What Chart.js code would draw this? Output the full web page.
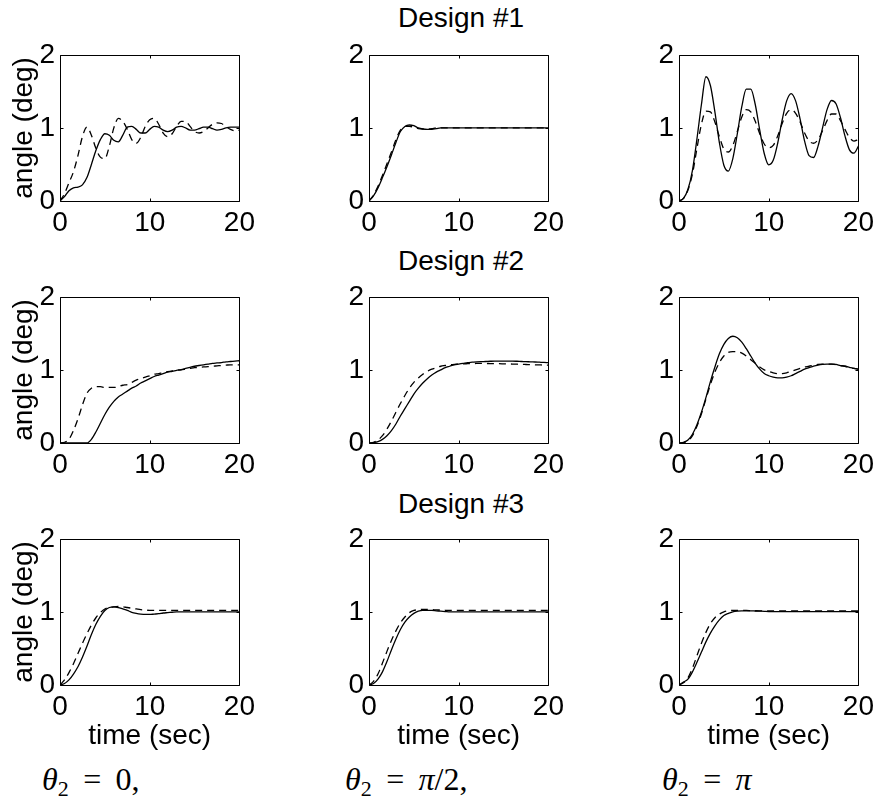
<!DOCTYPE html>
<html>
<head>
<meta charset="utf-8">
<script src="https://cdn.jsdelivr.net/npm/chart.js@4.4.0/dist/chart.umd.min.js"></script>
<style>
  html, body { margin: 0; padding: 0; background: #fff; overflow: hidden; }
  body { width: 879px; height: 801px; position: relative; font-family: "Liberation Sans", Arial, sans-serif; }
  canvas { position: absolute; }
  .design { position: absolute; left: 311px; width: 300px; text-align: center; font-size: 28px; line-height: 28px; color: #000; }
  .theta { position: absolute; top: 763px; font-family: "Liberation Serif", "DejaVu Serif", serif; font-size: 32px; line-height: 32px; color: #000; white-space: nowrap; }
  .theta sub { font-size: 22px; vertical-align: -6px; line-height: 0; }
</style>
</head>
<body>
<div class="design" style="top:4px">Design #1</div>
<div class="design" style="top:247px">Design #2</div>
<div class="design" style="top:490px">Design #3</div>

<canvas id="p11" width="260" height="208" style="left:0px;top:33px"></canvas>
<canvas id="p12" width="260" height="208" style="left:309px;top:33px"></canvas>
<canvas id="p13" width="260" height="208" style="left:619px;top:33px"></canvas>
<canvas id="p21" width="260" height="208" style="left:0px;top:275px"></canvas>
<canvas id="p22" width="260" height="208" style="left:309px;top:275px"></canvas>
<canvas id="p23" width="260" height="208" style="left:619px;top:275px"></canvas>
<canvas id="p31" width="260" height="236" style="left:0px;top:517px"></canvas>
<canvas id="p32" width="260" height="236" style="left:309px;top:517px"></canvas>
<canvas id="p33" width="260" height="236" style="left:619px;top:517px"></canvas>

<div class="theta" style="left:42px"><i>θ</i><sub>2</sub>&thinsp; = &thinsp;0,</div>
<div class="theta" style="left:345px"><i>θ</i><sub>2</sub>&thinsp; = &thinsp;<i>π</i>/2,</div>
<div class="theta" style="left:662px"><i>θ</i><sub>2</sub>&thinsp; = &thinsp;<i>π</i></div>

<script>
// time axis (sec), shared by every curve
const time = [0, 0.5, 1, 1.5, 2, 2.5, 3, 3.5, 4, 4.5, 5, 5.5, 6, 6.5, 7, 7.5, 8, 8.5, 9, 9.5,
  10, 10.5, 11, 11.5, 12, 12.5, 13, 13.5, 14, 14.5, 15, 15.5, 16, 16.5, 17, 17.5, 18, 18.5, 19, 19.5, 20];

const xTicks = [0, 10, 20];
const yTicks = [0, 1, 2];

// Design #1
const d1Zero = [0, 0.06, 0.14, 0.18, 0.19, 0.22, 0.32, 0.50, 0.69, 0.84,
  0.92, 0.90, 0.83, 0.81, 0.90, 1.01, 1.02, 0.98, 0.93, 0.93,
  0.98, 1.02, 1.01, 0.97, 0.95, 0.97, 1.01, 1.02, 1.00, 0.97,
  0.97, 0.99, 1.01, 1.01, 0.99, 0.97, 0.98, 1.00, 1.01, 1.01, 1.01];
const d1ZeroDash = [0, 0.10, 0.25, 0.40, 0.62, 0.88, 1.01, 0.90, 0.72, 0.60,
  0.58, 0.75, 1.00, 1.13, 1.09, 0.98, 0.84, 0.79, 0.87, 1.02,
  1.11, 1.13, 1.05, 0.93, 0.88, 0.92, 1.02, 1.09, 1.09, 1.02,
  0.95, 0.93, 0.95, 1.00, 1.05, 1.07, 1.06, 1.02, 0.98, 0.96, 0.97];
const d1Half = [0, 0.07, 0.18, 0.32, 0.47, 0.63, 0.80, 0.95, 1.02, 1.04,
  1.03, 1.00, 0.985, 0.98, 0.98, 0.99, 1.00, 1.00, 1.00, 1.00,
  1.00, 1.00, 1.00, 1.00, 1.00, 1.00, 1.00, 1.00, 1.00, 1.00,
  1.00, 1.00, 1.00, 1.00, 1.00, 1.00, 1.00, 1.00, 1.00, 1.00, 1.00];
const d1HalfDash = [0, 0.08, 0.20, 0.35, 0.51, 0.67, 0.84, 0.97, 1.02, 1.02,
  1.01, 0.99, 0.985, 0.985, 0.99, 1.00, 1.00, 1.00, 1.00, 1.00,
  1.00, 1.00, 1.00, 1.00, 1.00, 1.00, 1.00, 1.00, 1.00, 1.00,
  1.00, 1.00, 1.00, 1.00, 1.00, 1.00, 1.00, 1.00, 1.00, 1.00, 1.00];
const d1Pi = [0, 0.035, 0.16, 0.42, 0.85, 1.32, 1.70, 1.58, 1.22, 0.80,
  0.49, 0.41, 0.58, 0.92, 1.29, 1.53, 1.53, 1.32, 0.97, 0.65,
  0.495, 0.556, 0.79, 1.11, 1.37, 1.47, 1.37, 1.12, 0.82, 0.62,
  0.595, 0.75, 1.00, 1.25, 1.375, 1.33, 1.14, 0.89, 0.70, 0.655, 0.75];
const d1PiDash = [0, 0.035, 0.15, 0.37, 0.72, 1.05, 1.23, 1.22, 1.08, 0.88,
  0.71, 0.67, 0.76, 0.95, 1.15, 1.25, 1.22, 1.09, 0.92, 0.78,
  0.73, 0.76, 0.89, 1.06, 1.20, 1.25, 1.20, 1.08, 0.93, 0.82,
  0.79, 0.84, 0.96, 1.10, 1.19, 1.19, 1.10, 0.98, 0.87, 0.82, 0.84];

// Design #2
const d2Zero = [0, 0, 0, 0, 0, 0, 0, 0.05, 0.15, 0.27,
  0.39, 0.49, 0.57, 0.63, 0.67, 0.71, 0.75, 0.78, 0.82, 0.85,
  0.88, 0.91, 0.93, 0.95, 0.97, 0.98, 0.995, 1.005, 1.02, 1.035,
  1.05, 1.06, 1.07, 1.08, 1.09, 1.095, 1.10, 1.11, 1.115, 1.12, 1.125];
const d2ZeroDash = [0, 0.01, 0.05, 0.17, 0.33, 0.52, 0.68, 0.75, 0.77, 0.77,
  0.76, 0.76, 0.76, 0.77, 0.79, 0.80, 0.83, 0.86, 0.88, 0.90,
  0.92, 0.94, 0.95, 0.965, 0.975, 0.985, 0.995, 1.00, 1.01, 1.02,
  1.03, 1.035, 1.04, 1.045, 1.05, 1.055, 1.06, 1.065, 1.07, 1.07, 1.07];
const d2Half = [0, 0.005, 0.02, 0.05, 0.10, 0.17, 0.26, 0.37, 0.47, 0.57,
  0.67, 0.75, 0.82, 0.88, 0.93, 0.97, 1.00, 1.03, 1.05, 1.07,
  1.08, 1.09, 1.10, 1.105, 1.11, 1.113, 1.115, 1.118, 1.12, 1.12,
  1.12, 1.12, 1.12, 1.118, 1.115, 1.113, 1.11, 1.108, 1.105, 1.102, 1.10];
const d2HalfDash = [0, 0.01, 0.04, 0.10, 0.19, 0.30, 0.42, 0.54, 0.65, 0.75,
  0.83, 0.89, 0.94, 0.98, 1.01, 1.03, 1.05, 1.06, 1.07, 1.075,
  1.08, 1.083, 1.085, 1.087, 1.088, 1.088, 1.088, 1.087, 1.086, 1.085,
  1.083, 1.081, 1.08, 1.078, 1.076, 1.074, 1.072, 1.07, 1.068, 1.066, 1.064];
const d2Pi = [0, 0.01, 0.04, 0.12, 0.25, 0.42, 0.62, 0.84, 1.04, 1.22,
  1.35, 1.43, 1.46, 1.44, 1.38, 1.29, 1.19, 1.09, 1.01, 0.95,
  0.92, 0.90, 0.89, 0.89, 0.90, 0.92, 0.95, 0.98, 1.01, 1.03,
  1.05, 1.065, 1.075, 1.08, 1.08, 1.075, 1.06, 1.05, 1.035, 1.02, 1.01];
const d2PiDash = [0, 0.005, 0.03, 0.10, 0.23, 0.40, 0.60, 0.80, 0.97, 1.10,
  1.19, 1.24, 1.25, 1.25, 1.23, 1.19, 1.14, 1.09, 1.04, 1.00,
  0.98, 0.96, 0.95, 0.95, 0.96, 0.98, 1.00, 1.02, 1.04, 1.05,
  1.065, 1.075, 1.08, 1.08, 1.08, 1.07, 1.06, 1.05, 1.035, 1.02, 1.01];

// Design #3
const d3Zero = [0, 0.02, 0.07, 0.15, 0.25, 0.38, 0.53, 0.69, 0.83, 0.94,
  1.02, 1.06, 1.07, 1.06, 1.04, 1.02, 0.995, 0.98, 0.97, 0.965,
  0.965, 0.97, 0.975, 0.985, 0.99, 0.995, 1.00, 1.00, 1.00, 1.00,
  1.00, 1.00, 1.00, 1.00, 1.00, 1.00, 1.00, 1.00, 1.00, 1.00, 1.00];
const d3ZeroDash = [0, 0.07, 0.17, 0.29, 0.43, 0.57, 0.70, 0.82, 0.92, 0.99,
  1.04, 1.06, 1.07, 1.075, 1.07, 1.06, 1.05, 1.04, 1.03, 1.025,
  1.02, 1.02, 1.02, 1.02, 1.02, 1.02, 1.02, 1.02, 1.02, 1.02,
  1.02, 1.02, 1.02, 1.02, 1.02, 1.02, 1.02, 1.02, 1.02, 1.02, 1.02];
const d3Half = [0, 0.02, 0.08, 0.18, 0.32, 0.48, 0.63, 0.76, 0.86, 0.93,
  0.98, 1.01, 1.02, 1.02, 1.02, 1.015, 1.01, 1.005, 1.00, 1.00,
  1.00, 1.00, 1.00, 1.00, 1.00, 1.00, 1.00, 1.00, 1.00, 1.00,
  1.00, 1.00, 1.00, 1.00, 1.00, 1.00, 1.00, 1.00, 1.00, 1.00, 1.00];
const d3HalfDash = [0, 0.05, 0.15, 0.30, 0.46, 0.61, 0.74, 0.85, 0.93, 0.99,
  1.02, 1.03, 1.035, 1.035, 1.03, 1.028, 1.025, 1.022, 1.02, 1.02,
  1.02, 1.02, 1.02, 1.02, 1.02, 1.02, 1.02, 1.02, 1.02, 1.02,
  1.02, 1.02, 1.02, 1.02, 1.02, 1.02, 1.02, 1.02, 1.02, 1.02, 1.02];
const d3Pi = [0, 0.04, 0.08, 0.18, 0.31, 0.45, 0.59, 0.71, 0.81, 0.89,
  0.95, 0.98, 1.00, 1.01, 1.015, 1.015, 1.015, 1.012, 1.01, 1.008,
  1.005, 1.005, 1.005, 1.005, 1.005, 1.005, 1.005, 1.005, 1.005, 1.005,
  1.005, 1.005, 1.005, 1.005, 1.005, 1.005, 1.005, 1.005, 1.005, 1.005, 1.005];
const d3PiDash = [0, 0.03, 0.10, 0.23, 0.40, 0.57, 0.72, 0.84, 0.92, 0.97,
  1.00, 1.015, 1.02, 1.02, 1.02, 1.02, 1.018, 1.016, 1.015, 1.015,
  1.012, 1.012, 1.012, 1.012, 1.012, 1.012, 1.012, 1.012, 1.012, 1.012,
  1.012, 1.012, 1.012, 1.012, 1.012, 1.012, 1.012, 1.012, 1.012, 1.012, 1.012];

const FONT = '"Liberation Sans", Arial, Helvetica, sans-serif';

// box round the plot area + short inward ticks (matlab style)
const boxPlugin = {
  id: 'box',
  afterDatasetsDraw(chart) {
    const { ctx, chartArea: a, scales: { x, y } } = chart;
    const L = Math.round(a.left) + 0.5, R = Math.round(a.right) + 0.5;
    const T = Math.round(a.top) + 0.5, B = Math.round(a.bottom) + 0.5;
    ctx.save();
    ctx.strokeStyle = '#000';
    ctx.lineWidth = 1;
    ctx.beginPath();
    ctx.rect(L, T, R - L, B - T);
    x.ticks.forEach(tk => {
      const px = Math.round(x.getPixelForValue(tk.value)) + 0.5;
      ctx.moveTo(px, B); ctx.lineTo(px, B - 3);
      ctx.moveTo(px, T); ctx.lineTo(px, T + 3);
    });
    y.ticks.forEach(tk => {
      const py = Math.round(y.getPixelForValue(tk.value)) + 0.5;
      ctx.moveTo(L, py); ctx.lineTo(L + 3, py);
      ctx.moveTo(R, py); ctx.lineTo(R - 3, py);
    });
    ctx.stroke();
    ctx.restore();
  }
};

function series(values, dashed) {
  return {
    data: time.map((t, i) => ({ x: t, y: values[i] })),
    borderColor: '#000',
    borderWidth: 1.3,
    borderDash: dashed ? [7, 5] : [],
    pointRadius: 0,
    cubicInterpolationMode: 'monotone',
    fill: false
  };
}

function makePanel(id, row, col, solid, dash) {
  const ctx = document.getElementById(id).getContext('2d');
  return new Chart(ctx, {
    type: 'line',
    data: { datasets: [series(solid, false), series(dash, true)] },
    options: {
      responsive: false,
      animation: false,
      devicePixelRatio: 1,
      layout: { padding: { top: 20, right: 16, left: 0, bottom: 0 } },
      plugins: { legend: { display: false }, tooltip: { enabled: false } },
      scales: {
        x: {
          type: 'linear', min: 0, max: 20,
          afterBuildTicks: s => { s.ticks = xTicks.map(v => ({ value: v })); },
          afterFit: s => { s.height = row === 2 ? 68 : 40; },
          grid: { display: false, drawTicks: false },
          border: { display: false },
          ticks: { color: '#000', font: { family: FONT, size: 28 }, padding: 5, maxRotation: 0, autoSkip: false },
          title: { display: row === 2, text: 'time (sec)', color: '#000', font: { family: FONT, size: 28 }, padding: { top: 0, bottom: 0 } }
        },
        y: {
          type: 'linear', min: 0, max: 2,
          afterBuildTicks: s => { s.ticks = yTicks.map(v => ({ value: v })); },
          afterFit: s => { s.width = 60; },
          grid: { display: false, drawTicks: false },
          border: { display: false },
          ticks: { color: '#000', font: { family: FONT, size: 28 }, padding: 5, autoSkip: false },
          title: { display: col === 0, text: 'angle (deg)', color: '#000', font: { family: FONT, size: 28 }, padding: { top: 7, bottom: 0 } }
        }
      }
    },
    plugins: [boxPlugin]
  });
}

makePanel('p11', 0, 0, d1Zero, d1ZeroDash);
makePanel('p12', 0, 1, d1Half, d1HalfDash);
makePanel('p13', 0, 2, d1Pi, d1PiDash);
makePanel('p21', 1, 0, d2Zero, d2ZeroDash);
makePanel('p22', 1, 1, d2Half, d2HalfDash);
makePanel('p23', 1, 2, d2Pi, d2PiDash);
makePanel('p31', 2, 0, d3Zero, d3ZeroDash);
makePanel('p32', 2, 1, d3Half, d3HalfDash);
makePanel('p33', 2, 2, d3Pi, d3PiDash);
</script>
</body>
</html>
